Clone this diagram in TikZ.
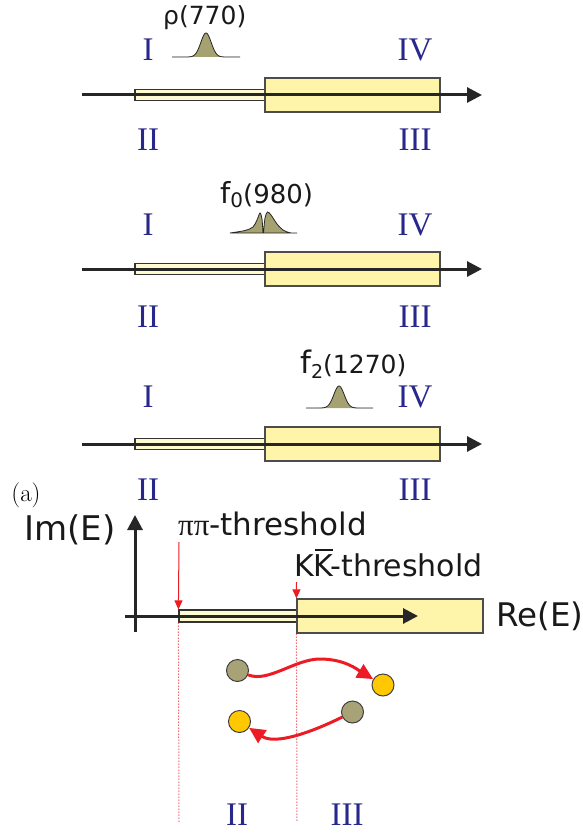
\documentclass[tikz,border=0pt]{standalone}
\usepackage{fontspec}
\usetikzlibrary{arrows.meta}
\newfontfamily\labfont{DejaVu Sans}
\newfontfamily\romfont{Liberation Serif}
\definecolor{romblue}{RGB}{40,40,140}
\definecolor{peakol}{RGB}{166,161,112}
\definecolor{ballol}{RGB}{168,163,118}
\definecolor{cutfill}{RGB}{255,245,170}
\definecolor{thinfill}{RGB}{255,250,208}
\definecolor{goldc}{RGB}{255,200,0}
\definecolor{arrred}{RGB}{237,28,36}
\newcommand\fsz[1]{\fontsize{#1}{#1}\selectfont}
\newcommand\kbar{\leavevmode\rlap{\hspace{0.04em}\rule[0.83em]{0.6em}{0.08em}}K}
\begin{document}
\begin{tikzpicture}[x=1pt,y=-1pt,
  rom/.style={font=\romfont\fsz{33}, text=romblue, inner sep=0pt},
  lab/.style={font=\labfont, inner sep=0pt, text=black!90},
  axisline/.style={line width=3pt, draw=black!85, -{Triangle[length=15pt,width=15pt]}},
  bigcut/.style={draw=black!70, line width=1.2pt, fill=cutfill, inner sep=0pt},
  thincut/.style={draw=black!80, line width=1.2pt, fill=thinfill, inner sep=0pt},
  peak/.style={fill=peakol, draw=black!85, line width=0.8pt},
  ball/.style={circle, minimum size=22pt, inner sep=0pt, draw=black!75, line width=1pt},
  curvedarr/.style={draw=arrred, line width=3pt, -{Triangle[length=16pt,width=15pt]}},
  thrarr/.style={draw=arrred, line width=1pt, -{Triangle[length=9pt,width=8pt]}},
  dotline/.style={draw=arrred, line width=1pt, dotted}]
\useasboundingbox (0,0) rectangle (582,837);

% ---- three upper panels ----
\foreach \y/\n in {95/1,269/2,444/3}{
  \node[thincut, minimum width=130pt, minimum height=11.5pt] (t\n) at (200,\y) {};
  \node[bigcut, minimum width=175pt, minimum height=34pt] (b\n) at (352.5,\y) {};
  \coordinate (as\n) at (82,\y);
  \coordinate (ae\n) at (482,\y);
  \draw[axisline] (as\n) -- (ae\n);
}

% Roman numerals
\node[rom] (p1I) at (148,50) {I};
\node[rom] (p1IV) at (415,50) {IV};
\node[rom] (p1II) at (148,140) {II};
\node[rom] (p1III) at (415,140) {III};
\node[rom] (p2I) at (148,225) {I};
\node[rom] (p2IV) at (415,225) {IV};
\node[rom] (p2II) at (148,317) {II};
\node[rom] (p2III) at (415,317) {III};
\node[rom] (p3I) at (148,397) {I};
\node[rom] (p3IV) at (415,397) {IV};
\node[rom] (p3II) at (148,490) {II};
\node[rom] (p3III) at (415,490) {III};

% resonance labels
\node[lab, anchor=base west, font=\labfont\fsz{25}] (rho) at (163,25) {ρ(770)};
\node[lab, anchor=base west] (fzero) at (220,203) {\fsz{29}f\raisebox{-5pt}{\fsz{20}0}\fsz{26}(980)};
\node[lab, anchor=base west] (ftwo) at (300,373) {\fsz{31}f\raisebox{-5pt}{\fsz{19}2}\fsz{25}(1270)};

% peaks
\filldraw[peak] plot[domain=-34:34, samples=90, smooth] ({206+\x},{57-24*exp(-\x*\x/54)});
\filldraw[peak] plot[smooth, tension=0.5] coordinates {(230,233) (245,230.5) (253,227) (257,220) (260,213) (262,219) (263,233)}
   -- plot[smooth, tension=0.5] coordinates {(263.5,233) (265,218) (267.5,212) (271,215) (277,224) (283,230) (290,232.8) (297,233)} -- cycle;
\filldraw[peak] plot[domain=-33:34, samples=90, smooth] ({339+\x},{408-22*exp(-\x*\x/54)});

% ---- bottom panel ----
\node[font=\fsz{25}, inner sep=0pt] (alab) at (26,495) {(a)};
\node[thincut, minimum width=118pt, minimum height=12pt] (t4) at (238,616) {};
\node[bigcut, minimum width=186pt, minimum height=34pt] (b4) at (390,616) {};
\coordinate (hx0) at (125,616);
\coordinate (hx1) at (418,616);
\coordinate (vy0) at (135,632);
\coordinate (vy1) at (135,515);
\draw[axisline] (hx0) -- (hx1);
\draw[axisline] (vy0) -- (vy1);

\node[lab, anchor=base, font=\labfont\fsz{34}] (im) at (70,540) {Im(E)};
\node[lab, anchor=base west, font=\labfont\fsz{32.5}] (re) at (496,626) {Re(E)};
\node[lab, anchor=base west, font=\labfont\fsz{31}] (pipi) at (178,535) {{\romfont ππ}-threshold};
\node[lab, anchor=base west, font=\labfont\fsz{30}] (kk) at (294,576) {K\kbar-threshold};

\coordinate (pa) at (179,542);
\draw[thrarr] (pa) -- (t4.north west);
\coordinate (ka) at (296.5,582);
\draw[thrarr] (ka) -- (b4.north west);
\coordinate (pd) at (179,822);
\draw[dotline] (t4.south west) -- (pd);
\coordinate (kd) at (297,822);
\draw[dotline] (b4.south west) -- (kd);

\node[ball, fill=ballol] (o1) at (237.5,670.5) {};
\node[ball, fill=goldc] (y1) at (383,685) {};
\node[ball, fill=ballol] (o2) at (352.5,712) {};
\node[ball, fill=goldc] (y2) at (239.5,721.5) {};
\draw[curvedarr] (o1) .. controls (268,683) and (295,659) .. (320,659) .. controls (345,659) and (358,670) .. (y1);
\draw[curvedarr] (o2) .. controls (310,733) and (275,745) .. (y2);

\node[rom] (bII) at (237,815) {II};
\node[rom] (bIII) at (347,815) {III};
\end{tikzpicture}
\end{document}
